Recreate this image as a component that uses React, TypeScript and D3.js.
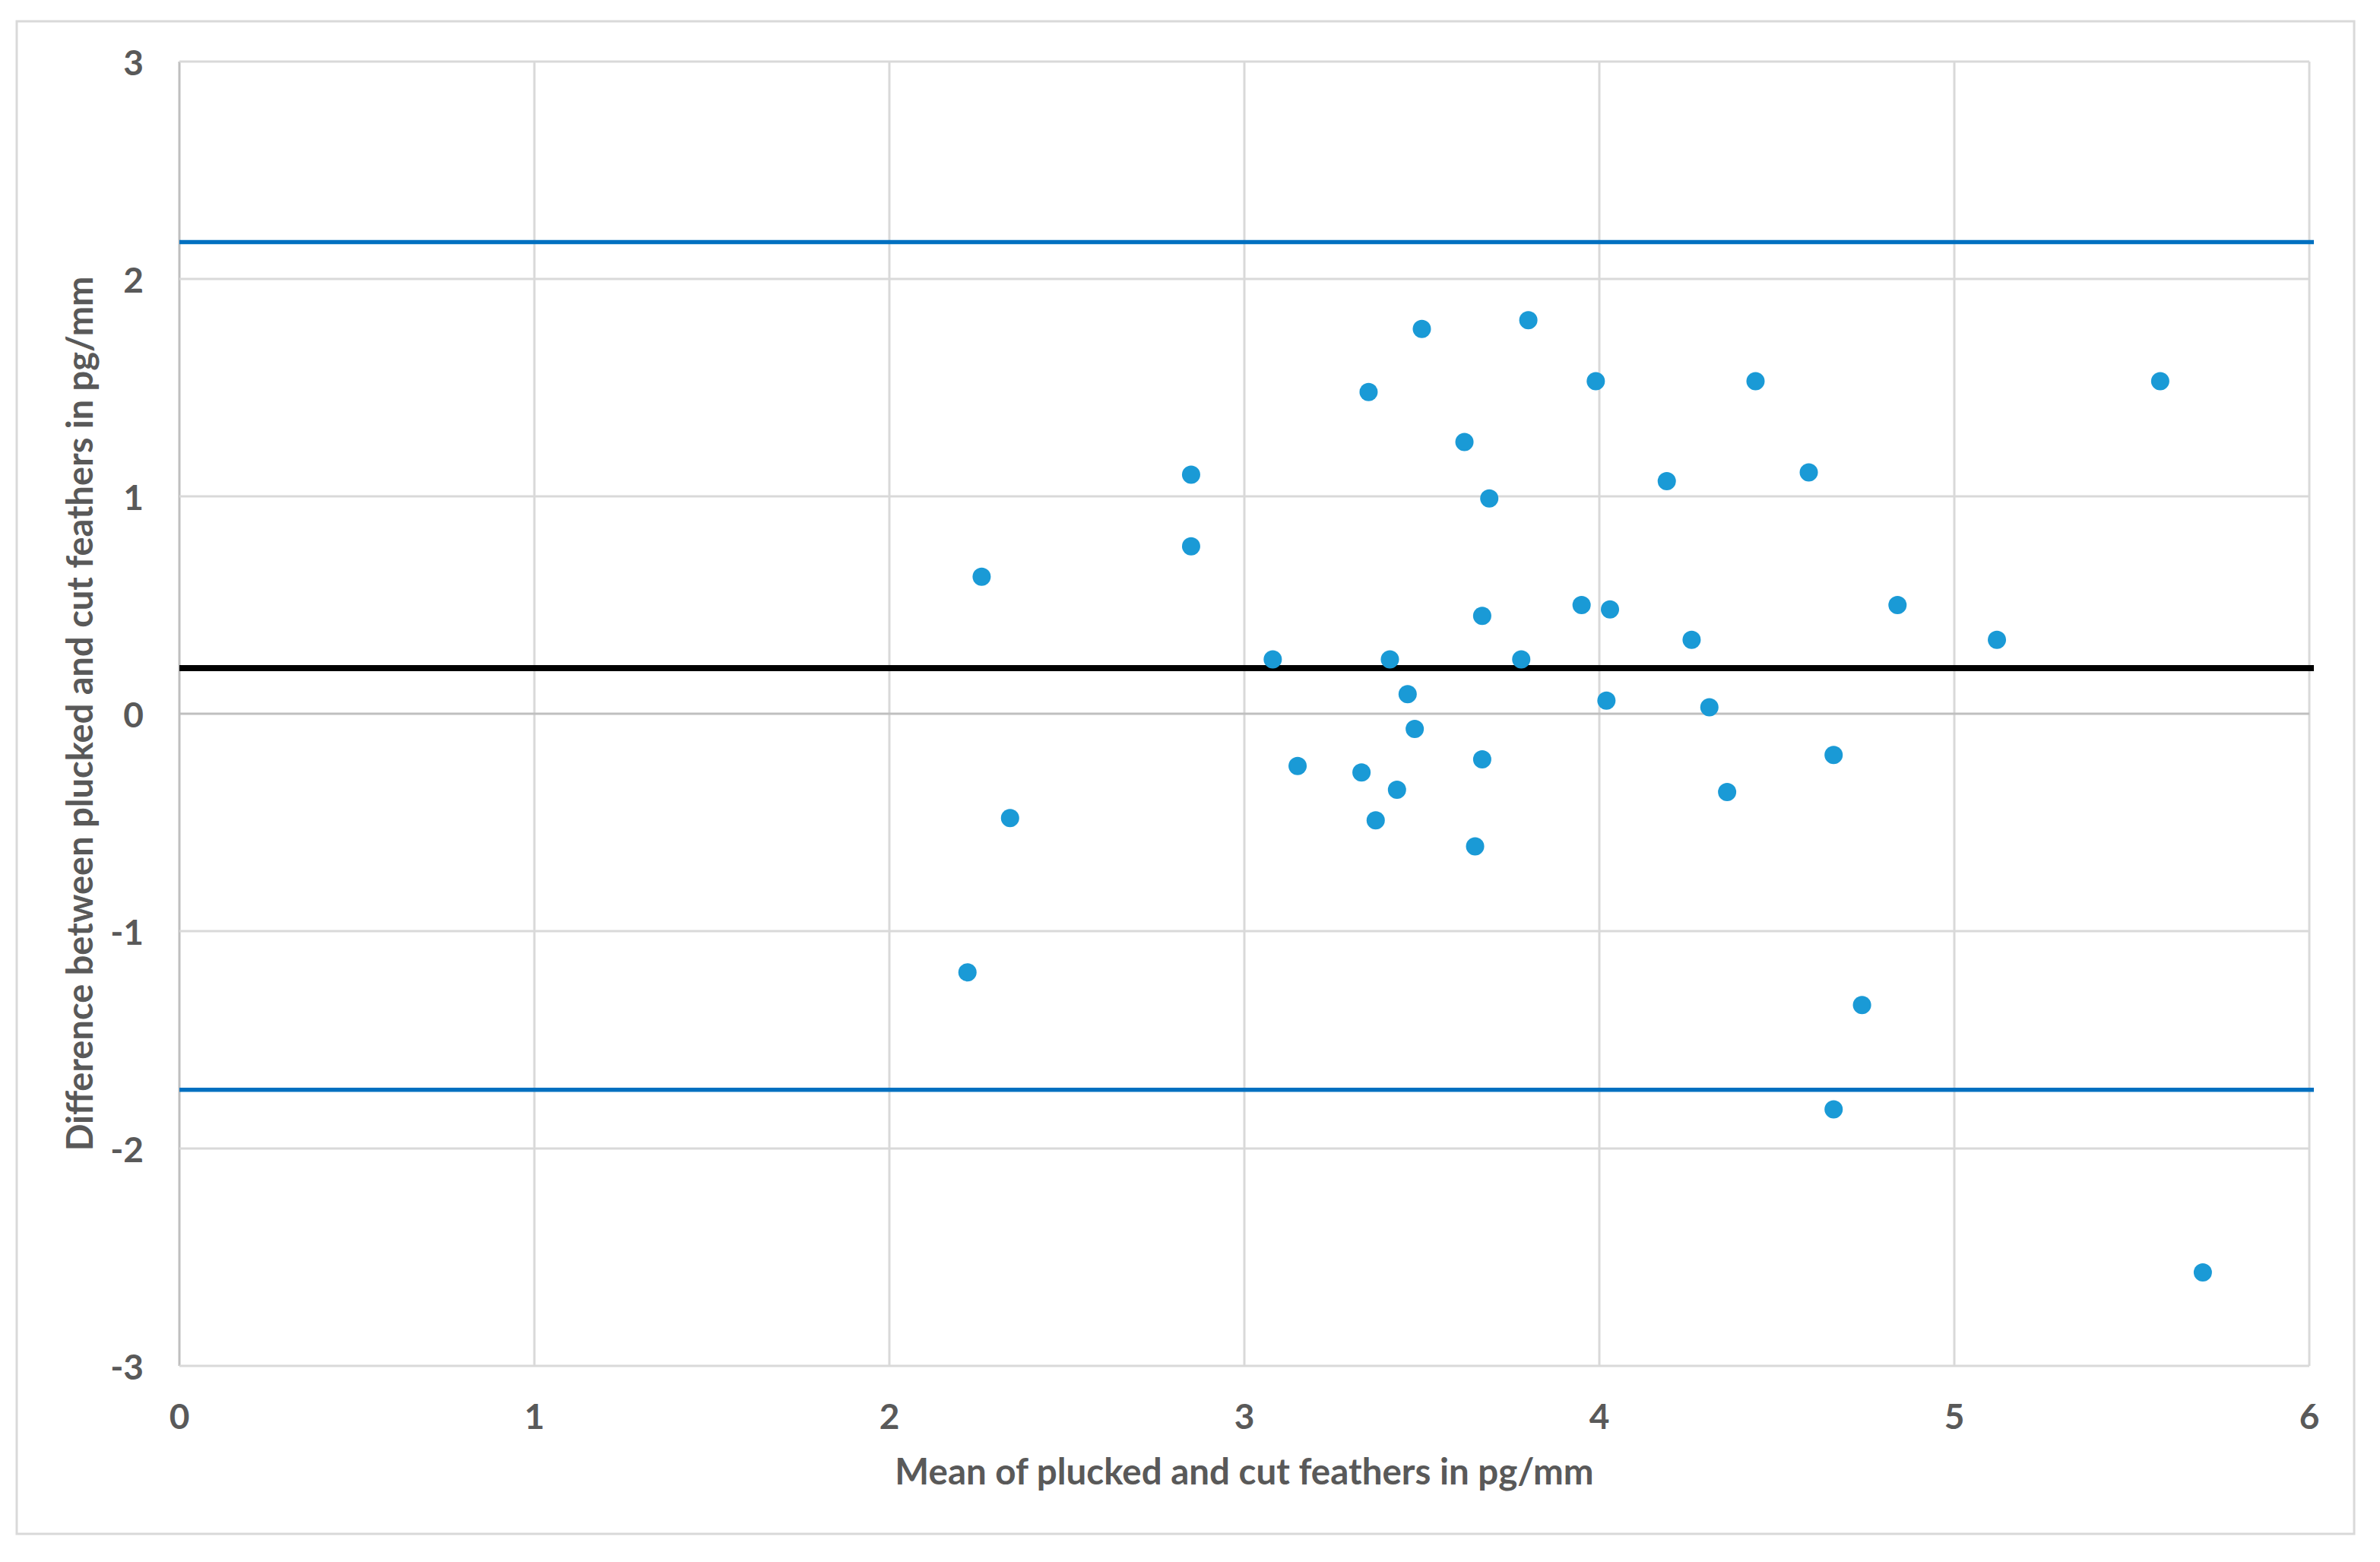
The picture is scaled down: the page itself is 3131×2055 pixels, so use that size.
import React from 'react';
import * as d3 from 'd3';

// Bland-Altman data: mean of the two methods vs their difference
const means = [
  2.26, 2.22, 2.34, 2.85, 2.85, 3.08, 3.15, 3.33, 3.35, 3.37,
  3.41, 3.43, 3.46, 3.48, 3.50, 3.62, 3.65, 3.67, 3.67, 3.69,
  3.78, 3.80, 3.95, 3.99, 4.02, 4.03, 4.19, 4.26, 4.31, 4.36,
  4.44, 4.59, 4.66, 4.66, 4.74, 4.84, 5.12, 5.58, 5.70
];
const diffs = [
  0.63, -1.19, -0.48, 1.10, 0.77, 0.25, -0.24, -0.27, 1.48, -0.49,
  0.25, -0.35, 0.09, -0.07, 1.77, 1.25, -0.61, 0.45, -0.21, 0.99,
  0.25, 1.81, 0.50, 1.53, 0.06, 0.48, 1.07, 0.34, 0.03, -0.36,
  1.53, 1.11, -0.19, -1.82, -1.34, 0.50, 0.34, 1.53, -2.57
];
const meanDiff = 0.21;
const limits = [2.17, -1.73];

const xTicks = [0, 1, 2, 3, 4, 5, 6];
const yTicks = [-3, -2, -1, 0, 1, 2, 3];

const xTitle = 'Mean of plucked and cut feathers in pg/mm';
const yTitle = 'Difference between plucked and cut feathers in pg/mm';

const W = 3131;
const H = 2055;
const margin = { top: 81, right: 93, bottom: 258, left: 236 };

const App: React.FC = () => {
  const x = d3.scaleLinear().domain([0, 6]).range([margin.left, W - margin.right]);
  const y = d3.scaleLinear().domain([-3, 3]).range([H - margin.bottom, margin.top]);

  const font = 'Lato, "Open Sans", sans-serif';
  const textColor = '#595959';
  const grid = '#d9d9d9';

  return (
    <svg
      width={W}
      height={H}
      style={{ position: 'absolute', left: 0, top: 0, background: '#fff' }}
    >
      {/* outer chart border */}
      <rect x={22} y={28} width={3075} height={1990} fill="#fff" stroke={grid} strokeWidth={3} />

      {/* gridlines */}
      {xTicks.map(t => (
        <line key={'gx' + t} x1={x(t)} x2={x(t)} y1={y(-3)} y2={y(3)}
          stroke={t === 0 ? '#bfbfbf' : grid} strokeWidth={3} />
      ))}
      {yTicks.map(t => (
        <line key={'gy' + t} x1={x(0)} x2={x(6)} y1={y(t)} y2={y(t)}
          stroke={t === 0 ? '#bfbfbf' : grid} strokeWidth={3} />
      ))}

      {/* limits of agreement */}
      {limits.map(v => (
        <line key={'l' + v} x1={x(0)} x2={x(6) + 6} y1={y(v)} y2={y(v)}
          stroke="#0070c0" strokeWidth={5.5} />
      ))}
      {/* mean difference */}
      <line x1={x(0)} x2={x(6) + 6} y1={y(meanDiff)} y2={y(meanDiff)}
        stroke="#000" strokeWidth={8} />

      {/* points */}
      {means.map((m, i) => (
        <circle key={'p' + i} cx={x(m)} cy={y(diffs[i])} r={12} fill="#1a9ad6" />
      ))}

      {/* tick labels */}
      {xTicks.map(t => (
        <text key={'tx' + t} x={x(t)} y={1862} textAnchor="middle" dominantBaseline="central"
          fontFamily={font} fontWeight={700} fontSize={46} fill={textColor}>{t}</text>
      ))}
      {yTicks.map(t => (
        <text key={'ty' + t} x={189} y={y(t)} textAnchor="end" dominantBaseline="central"
          fontFamily={font} fontWeight={700} fontSize={46} fill={textColor}>{t}</text>
      ))}

      {/* axis titles */}
      <text x={(x(0) + x(6)) / 2} y={1953} textAnchor="middle"
        fontFamily={font} fontWeight={700} fontSize={47.5} fill={textColor}>{xTitle}</text>
      <text transform={`translate(122,${(y(-3) + y(3)) / 2}) rotate(-90)`} textAnchor="middle"
        fontFamily={font} fontWeight={700} fontSize={47} fill={textColor}>{yTitle}</text>
    </svg>
  );
};

export default App;
